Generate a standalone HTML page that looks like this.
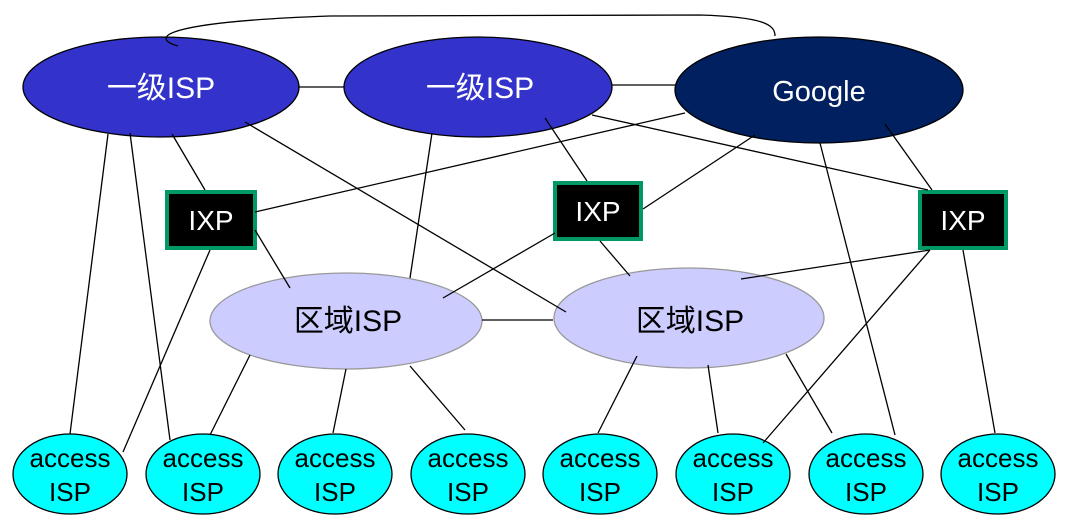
<!DOCTYPE html>
<html><head><meta charset="utf-8"><style>body{margin:0;background:#fff}svg{display:block}text{font-family:"Liberation Sans","Noto Sans CJK SC",sans-serif;text-anchor:middle}</style></head><body>
<svg width="1069" height="530" viewBox="0 0 1069 530" xmlns="http://www.w3.org/2000/svg">
<g stroke="#000" stroke-width="1.3">
<ellipse cx="161" cy="87" rx="138" ry="50" fill="#3333cc"/>
<ellipse cx="478" cy="87" rx="134" ry="50" fill="#3333cc"/>
<ellipse cx="819" cy="90" rx="144" ry="53" fill="#002060"/>
</g>
<g fill="#fff" font-size="30">
<text x="161" y="98">一级ISP</text>
<text x="480" y="98">一级ISP</text>
<text x="819" y="101" font-size="29">Google</text>
</g>
<g fill="#000" stroke="#009966" stroke-width="4">
<rect x="167" y="192" width="88" height="56"/>
<rect x="555" y="183" width="86" height="56"/>
<rect x="920" y="192" width="86" height="56"/>
</g>
<g fill="#fff" font-size="28">
<text x="211" y="230">IXP</text>
<text x="598" y="221">IXP</text>
<text x="963" y="230">IXP</text>
</g>
<g fill="#ccccff" stroke="#999" stroke-width="1.3">
<ellipse cx="346" cy="321" rx="136" ry="48"/>
<ellipse cx="689" cy="318" rx="135" ry="50"/>
</g>
<g fill="#000" font-size="30">
<text x="348" y="331">区域ISP</text>
<text x="690" y="331">区域ISP</text>
</g>
<g fill="#00ffff" stroke="#000" stroke-width="1.3">
<ellipse cx="70" cy="474" rx="57" ry="40"/>
<ellipse cx="203" cy="474" rx="57" ry="40"/>
<ellipse cx="335" cy="474" rx="57" ry="40"/>
<ellipse cx="468" cy="474" rx="57" ry="40"/>
<ellipse cx="600" cy="474" rx="57" ry="40"/>
<ellipse cx="733" cy="474" rx="57" ry="40"/>
<ellipse cx="866" cy="474" rx="57" ry="40"/>
<ellipse cx="998" cy="474" rx="57" ry="40"/>
</g>
<g fill="#000" font-size="26">
<text x="70" y="467">access</text><text x="70" y="501">ISP</text>
<text x="203" y="467">access</text><text x="203" y="501">ISP</text>
<text x="335" y="467">access</text><text x="335" y="501">ISP</text>
<text x="468" y="467">access</text><text x="468" y="501">ISP</text>
<text x="600" y="467">access</text><text x="600" y="501">ISP</text>
<text x="733" y="467">access</text><text x="733" y="501">ISP</text>
<text x="866" y="467">access</text><text x="866" y="501">ISP</text>
<text x="998" y="467">access</text><text x="998" y="501">ISP</text>
</g>
<g stroke="#000" stroke-width="1.3" fill="none">
<path d="M178,46 C150,38 160,22 330,16 L700,15 C765,17 775,25 775,36"/>
<line x1="298" y1="87" x2="344" y2="87"/>
<line x1="612" y1="85" x2="675" y2="85"/>
<line x1="108" y1="134" x2="70" y2="434"/>
<line x1="130" y1="133" x2="170" y2="440"/>
<line x1="172" y1="134" x2="205" y2="190"/>
<line x1="245" y1="122" x2="566" y2="312"/>
<line x1="255" y1="212" x2="685" y2="113"/>
<line x1="255" y1="230" x2="290" y2="288"/>
<line x1="210" y1="250" x2="123" y2="452"/>
<line x1="432" y1="133" x2="410" y2="278"/>
<line x1="545" y1="118" x2="587" y2="181"/>
<line x1="592" y1="115" x2="928" y2="190"/>
<line x1="643" y1="209" x2="755" y2="135"/>
<line x1="555" y1="233" x2="443" y2="298"/>
<line x1="600" y1="241" x2="630" y2="276"/>
<line x1="885" y1="124" x2="932" y2="190"/>
<line x1="820" y1="143" x2="895" y2="435"/>
<line x1="930" y1="250" x2="741" y2="279"/>
<line x1="930" y1="250" x2="763" y2="443"/>
<line x1="963" y1="250" x2="995" y2="433"/>
<line x1="482" y1="320" x2="553" y2="320"/>
<line x1="250" y1="355" x2="210" y2="435"/>
<line x1="346" y1="369" x2="333" y2="433"/>
<line x1="410" y1="366" x2="465" y2="430"/>
<line x1="637" y1="356" x2="598" y2="433"/>
<line x1="708" y1="365" x2="718" y2="433"/>
<line x1="786" y1="354" x2="832" y2="433"/>
</g>
</svg>
</body></html>
